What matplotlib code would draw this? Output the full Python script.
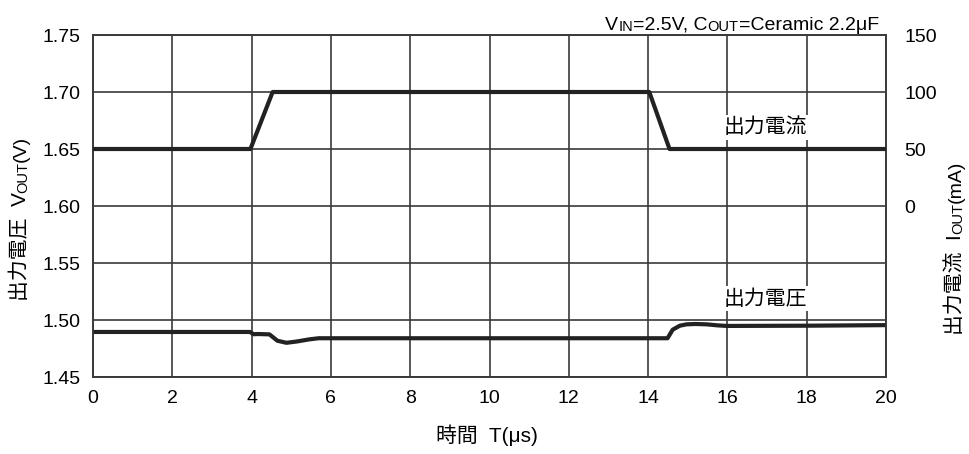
import matplotlib
matplotlib.use("agg")
import matplotlib.pyplot as plt

plt.rcParams['font.family'] = ['Liberation Sans', 'Noto Sans CJK JP', 'DejaVu Sans']

# Output current (right axis, mA)
t_iout = [0, 3.97, 4.53, 14.03, 14.54, 20]
iout = [50, 50, 100, 100, 50, 50]

# Output voltage (left axis, V)
t_vout = [0, 3.96, 4.05, 4.15, 4.45, 4.65, 4.88, 5.15, 5.45, 5.69, 8.0, 12.0,
          14.0, 14.49, 14.62, 14.8, 14.97, 15.2, 15.47, 15.75, 15.98, 18.0, 20]
vout = [1.4895, 1.4895, 1.4875, 1.4877, 1.4874, 1.4818, 1.4800, 1.4812, 1.4830,
        1.4840, 1.4840, 1.4840, 1.4840, 1.4840, 1.4915, 1.4950, 1.4962, 1.4965,
        1.4962, 1.4953, 1.4948, 1.4950, 1.4955]

v_ticks = [1.45, 1.50, 1.55, 1.60, 1.65, 1.70, 1.75]
i_ticks = [0, 50, 100, 150]
t_ticks = list(range(0, 21, 2))

fig = plt.figure(figsize=(9.7, 4.54), dpi=100)
ax = fig.add_axes([0.0959, 0.1696, 0.8175, 0.7533])
ax2 = ax.twinx()

fs = 14
fj = 15
lc = '#222222'
gc = '#3a3a3a'

ax.set_xlim(0, 20)
ax.set_ylim(1.45, 1.75)
ax.set_xticks(t_ticks)
ax.set_yticks(v_ticks)
ax.set_yticklabels(['%.2f' % v for v in v_ticks])
ax.grid(True, color=gc, lw=1.2)
ax.set_axisbelow(True)
ax.tick_params(length=0, labelsize=fs, pad=9)

ax2.set_ylim(-150, 150)
ax2.set_yticks(i_ticks)
ax2.tick_params(length=0, labelsize=fs, pad=13)

for a in (ax, ax2):
    for s in a.spines.values():
        s.set_color(gc)
        s.set_linewidth(1.2)

ax.plot(t_vout, vout, color=lc, lw=3, solid_capstyle='butt', zorder=3)
ax2.plot(t_iout, iout, color=lc, lw=3, solid_capstyle='butt', zorder=3)

box = dict(facecolor='white', edgecolor='none', pad=2)
ax.text(16.97, 1.5185, '出力電圧', fontsize=fj, ha='center', va='center', bbox=box, zorder=4)
ax2.text(16.97, 69, '出力電流', fontsize=fj, ha='center', va='center', bbox=box, zorder=4)


def chain_h(parts, x, y):
    # pieces placed one after another, small caps for subscripts
    t = fig.text(x, y, parts[0][1], fontsize=parts[0][0], ha='left', va='baseline')
    for size, s in parts[1:]:
        t = ax.annotate(s, xy=(1, 0), xycoords=t, fontsize=size, ha='left', va='bottom',
                        annotation_clip=False)
    return t


def chain_v(parts, x, y):
    t = fig.text(x, y, parts[0][1], fontsize=parts[0][0], rotation=90,
                 ha='right', va='bottom')
    for size, s in parts[1:]:
        t = ax.annotate(s, xy=(1, 1), xycoords=t, fontsize=size, rotation=90,
                        ha='right', va='bottom', annotation_clip=False)
    return t


small = fs * 0.75
chain_h([(fs, 'V'), (small, 'IN'), (fs, '=2.5V, C'), (small, 'OUT'),
         (fs, '=Ceramic 2.2μF')], 0.624, 0.935)

chain_v([(fj, '出力電圧  V'), (small, 'OUT'), (fs, '(V)')], 0.031, 0.336)
chain_v([(fj, '出力電流  I'), (small, 'OUT'), (fs, '(mA)')], 0.995, 0.262)

fig.text(0.502, 0.018, '時間  T(μs)', fontsize=fj, ha='center', va='bottom')

fig.savefig('out.png', dpi=100)
